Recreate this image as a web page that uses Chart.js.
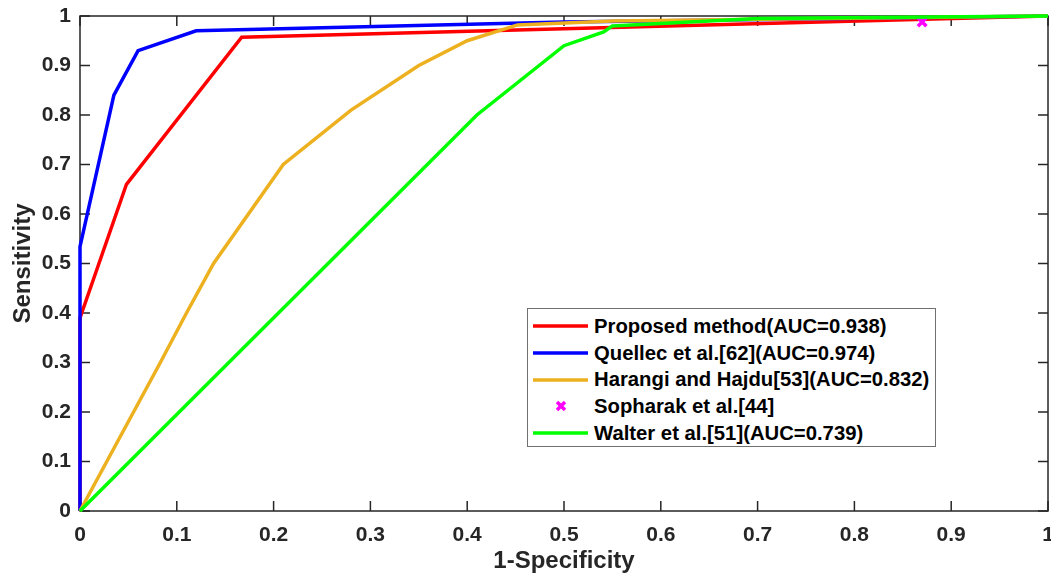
<!DOCTYPE html>
<html lang="en">
<head>
    <meta charset="UTF-8">
    <title>ROC curves</title>
    <style>
        body {
            margin: 0;
            padding: 0;
            background: #ffffff;
            font-family: "Liberation Sans", Arial, sans-serif;
        }

        .wrap {
            position: relative;
            width: 1051px;
            height: 581px;
        }

        #legend {
            position: absolute;
            left: 527px;
            top: 308px;
            width: 407px;
            padding: 4px 0 0 0;
            height: 133px;
            border: 1px solid #707070;
            background: #ffffff;
            font-weight: bold;
            font-size: 20.3px;
            color: #000000;
        }

        .row {
            display: flex;
            align-items: center;
            height: 26.7px;
        }

        .sample {
            width: 55px;
            margin-left: 5px;
            margin-right: 6px;
            display: flex;
            align-items: center;
            justify-content: center;
        }
    </style>
</head>
<body>
    <div class="wrap">
        <canvas id="roc" width="1051" height="581"></canvas>
        <div id="legend"></div>
    </div>

    <script src="https://cdn.jsdelivr.net/npm/chart.js"></script>
    <script>
        // valores (1-especificidade, sensibilidade)
        const fprProposed = [0, 0, 0.048, 0.167, 1];
        const tprProposed = [0, 0.39, 0.66, 0.957, 1];

        const fprQuellec = [0, 0, 0.035, 0.06, 0.12, 0.5, 1];
        const tprQuellec = [0, 0.534, 0.84, 0.93, 0.97, 0.988, 1];

        const fprHarangi = [0, 0.083, 0.11, 0.138, 0.21, 0.28, 0.35, 0.40, 0.452, 0.55, 1];
        const tprHarangi = [0, 0.30, 0.40, 0.50, 0.70, 0.81, 0.90, 0.95, 0.982, 0.99, 1];

        const fprSopharak = [0.87];
        const tprSopharak = [0.988];

        const fprWalter = [0, 0.41, 0.50, 0.541, 0.55, 0.70, 1];
        const tprWalter = [0, 0.80, 0.94, 0.968, 0.98, 0.995, 1];

        const seriesNames = [
            'Proposed method(AUC=0.938)',
            'Quellec et al.[62](AUC=0.974)',
            'Harangi and Hajdu[53](AUC=0.832)',
            'Sopharak et al.[44]',
            'Walter et al.[51](AUC=0.739)'
        ];
        const seriesColors = ['#ff0000', '#0000ff', '#edb120', '#ff00ff', '#00ff00'];

        const xTicks = [0, 0.1, 0.2, 0.3, 0.4, 0.5, 0.6, 0.7, 0.8, 0.9, 1];
        const yTicks = [0, 0.1, 0.2, 0.3, 0.4, 0.5, 0.6, 0.7, 0.8, 0.9, 1];

        function toPoints(xs, ys) {
            return xs.map((x, i) => ({ x: x, y: ys[i] }));
        }

        function lineSet(i, xs, ys, order) {
            return {
                label: seriesNames[i],
                data: toPoints(xs, ys),
                showLine: true,
                borderColor: seriesColors[i],
                backgroundColor: seriesColors[i],
                borderWidth: 3.5,
                pointRadius: 0,
                tension: 0,
                clip: 6,
                order: order
            };
        }

        // moldura com marcas para dentro nos quatro lados
        const framePlugin = {
            id: 'frame',
            beforeDatasetsDraw(chart) {
                const ctx = chart.ctx;
                const a = chart.chartArea;
                const xs = chart.scales.x;
                const ys = chart.scales.y;
                const len = 10;
                ctx.save();
                ctx.strokeStyle = '#262626';
                ctx.lineWidth = 1.5;
                ctx.strokeRect(a.left, a.top, a.right - a.left, a.bottom - a.top);
                ctx.beginPath();
                xTicks.forEach(v => {
                    const px = xs.getPixelForValue(v);
                    ctx.moveTo(px, a.bottom); ctx.lineTo(px, a.bottom - len);
                    ctx.moveTo(px, a.top); ctx.lineTo(px, a.top + len);
                });
                yTicks.forEach(v => {
                    const py = ys.getPixelForValue(v);
                    ctx.moveTo(a.left, py); ctx.lineTo(a.left + len, py);
                    ctx.moveTo(a.right, py); ctx.lineTo(a.right - len, py);
                });
                ctx.stroke();
                ctx.restore();
            }
        };

        const tickFont = { family: '"Liberation Sans", Arial, sans-serif', size: 21, weight: 'bold' };
        const titleFont = { family: '"Liberation Sans", Arial, sans-serif', size: 24, weight: 'bold' };

        const ctx = document.getElementById('roc').getContext('2d');
        const chart = new Chart(ctx, {
            type: 'scatter',
            data: {
                datasets: [
                    lineSet(0, fprProposed, tprProposed, 5),
                    lineSet(1, fprQuellec, tprQuellec, 4),
                    lineSet(2, fprHarangi, tprHarangi, 3),
                    {
                        label: seriesNames[3],
                        data: toPoints(fprSopharak, tprSopharak),
                        showLine: false,
                        pointStyle: 'crossRot',
                        pointRadius: 6,
                        borderWidth: 3.5,
                        borderColor: seriesColors[3],
                        backgroundColor: seriesColors[3],
                        clip: 8,
                        order: 2
                    },
                    lineSet(4, fprWalter, tprWalter, 1)
                ]
            },
            options: {
                responsive: false,
                devicePixelRatio: 1,
                animation: false,
                layout: { autoPadding: false, padding: { top: 16, right: 3, left: 0, bottom: 0 } },
                plugins: {
                    legend: { display: false },
                    tooltip: { enabled: false }
                },
                scales: {
                    x: {
                        type: 'linear',
                        min: 0,
                        max: 1,
                        afterBuildTicks: s => { s.ticks = xTicks.map(v => ({ value: v })); },
                        afterFit: s => { s.height = 70; s.paddingLeft = 0; s.paddingRight = 0; },
                        grid: { display: false, drawTicks: false },
                        border: { display: false },
                        ticks: {
                            color: '#262626',
                            font: tickFont,
                            padding: 12,
                            maxRotation: 0,
                            callback: v => String(Math.round(v * 10) / 10)
                        },
                        title: {
                            display: true,
                            text: '1-Specificity',
                            color: '#262626',
                            font: titleFont,
                            padding: { top: 0, bottom: 5 }
                        }
                    },
                    y: {
                        type: 'linear',
                        min: 0,
                        max: 1,
                        afterBuildTicks: s => { s.ticks = yTicks.map(v => ({ value: v })); },
                        afterFit: s => { s.width = 80; s.paddingTop = 0; s.paddingBottom = 0; },
                        grid: { display: false, drawTicks: false },
                        border: { display: false },
                        ticks: {
                            color: '#262626',
                            font: tickFont,
                            padding: 9,
                            callback: v => String(Math.round(v * 10) / 10)
                        },
                        title: {
                            display: true,
                            text: 'Sensitivity',
                            color: '#262626',
                            font: titleFont,
                            padding: { top: 9, bottom: 0 }
                        }
                    }
                }
            },
            plugins: [framePlugin]
        });

        // legenda dentro da área do gráfico
        const legend = document.getElementById('legend');
        chart.data.datasets.forEach((ds, i) => {
            const row = document.createElement('div');
            row.className = 'row';
            const sample = document.createElement('div');
            sample.className = 'sample';
            if (ds.showLine) {
                sample.innerHTML = '<svg width="55" height="6"><line x1="0" y1="3" x2="55" y2="3" stroke="' +
                    ds.borderColor + '" stroke-width="3.5"/></svg>';
            } else {
                sample.innerHTML = '<svg width="12" height="12"><path d="M2 2 L10 10 M10 2 L2 10" stroke="' +
                    ds.borderColor + '" stroke-width="3.5"/></svg>';
            }
            const label = document.createElement('span');
            label.textContent = ds.label;
            row.appendChild(sample);
            row.appendChild(label);
            legend.appendChild(row);
        });
    </script>
</body>
</html>
